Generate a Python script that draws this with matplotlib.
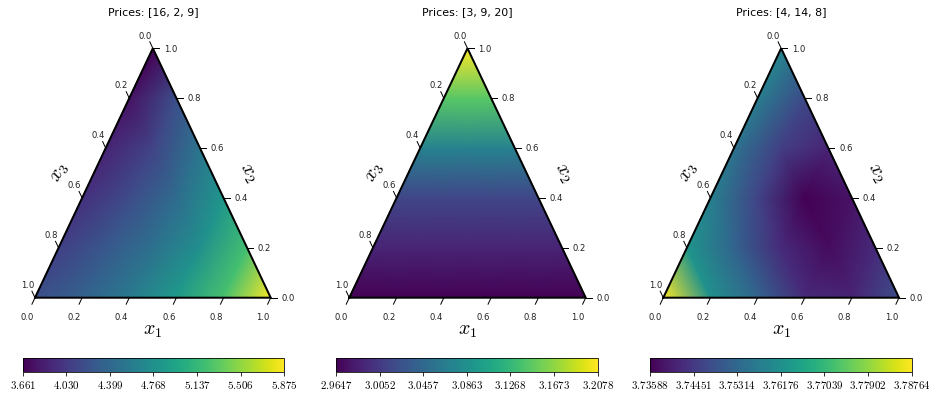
import matplotlib.pyplot as plt
import numpy as np

plt.rcParams['mathtext.fontset'] = 'cm'

titles = ["Prices: [16, 2, 9]", "Prices: [3, 9, 20]", "Prices: [4, 14, 8]"]

# cost on a 0.2 simplex grid: one row per x2 level (0 -> 1), x1 rising along each row
cost_a = [
    [4.192, 4.347, 4.569, 4.857, 5.233, 5.875],
    [4.082, 4.259, 4.480, 4.768, 5.211],
    [3.971, 4.170, 4.436, 4.834],
    [3.882, 4.104, 4.525],
    [3.772, 4.192],
    [3.661],
]
cost_b = [
    [2.9647, 2.9647, 2.9647, 2.9647, 2.9647, 2.9647],
    [2.9890, 2.9890, 2.9890, 2.9890, 2.9890],
    [3.0158, 3.0158, 3.0158, 3.0158],
    [3.0717, 3.0717, 3.0717],
    [3.1446, 3.1446],
    [3.2078],
]
cost_c = [
    [3.78764, 3.76176, 3.75244, 3.74209, 3.74106, 3.74830],
    [3.76280, 3.75244, 3.74209, 3.73743, 3.74209],
    [3.75814, 3.74623, 3.73588, 3.73847],
    [3.75555, 3.74520, 3.74106],
    [3.75762, 3.74727],
    [3.75969],
]
costs = [cost_a, cost_b, cost_c]

cbar_labels = [
    ["3.661", "4.030", "4.399", "4.768", "5.137", "5.506", "5.875"],
    ["2.9647", "3.0052", "3.0457", "3.0863", "3.1268", "3.1673", "3.2078"],
    ["3.73588", "3.74451", "3.75314", "3.76176", "3.77039", "3.77902", "3.78764"],
]
axis_ticks = ["0.0", "0.2", "0.4", "0.6", "0.8", "1.0"]

W, H = 930, 393
tri_left = [35, 349.3, 663.3]
tri_width = [235.7, 236.4, 235.7]
cb_left = [22.7, 336, 650]

s3 = np.sqrt(3) / 2
off = 0.026


def proj(a, b):
    return a + b / 2, b * s3


fig = plt.figure(figsize=(W / 72, H / 72), dpi=72)

for k in range(3):
    ax = fig.add_axes([tri_left[k] / W, (H - 297.7) / H, tri_width[k] / W, 249.4 / H])
    ax.set_xlim(0, 1)
    ax.set_ylim(0, s3)
    ax.axis('off')

    grid = costs[k]
    n = len(grid) - 1
    px, py, vals = [], [], []
    for j, row in enumerate(grid):
        for i, v in enumerate(row):
            x, y = proj(i / n, j / n)
            px.append(x)
            py.append(y)
            vals.append(v)
    lo = float(cbar_labels[k][0])
    hi = float(cbar_labels[k][-1])
    mesh = ax.tripcolor(px, py, vals, shading='gouraud', cmap='viridis',
                        vmin=lo, vmax=hi)

    # triangle outline
    ax.plot([0, 1, 0.5, 0], [0, 0, s3, 0], color='black', lw=2,
            clip_on=False, solid_joinstyle='miter')

    for idx, lab in enumerate(axis_ticks):
        t = float(lab)
        # bottom axis (x1)
        a, b = proj(t, 0), proj(t, -off)
        ax.plot([a[0], b[0]], [a[1], b[1]], color='black', lw=1, clip_on=False)
        tx, ty = proj(t + 0.5 * off, -3.5 * off)
        ax.text(tx, ty, lab, ha='center', fontsize=8.5, color='#222222', clip_on=False)
        # right axis (x2)
        a, b = proj(1 - t, t), proj(1 - t + off, t)
        ax.plot([a[0], b[0]], [a[1], b[1]], color='black', lw=1, clip_on=False)
        tx, ty = proj(1 - t + 3.1 * off, t - 0.5 * off)
        ax.text(tx, ty, lab, ha='center', fontsize=8.5, color='#222222', clip_on=False)
        # left axis (x3)
        a, b = proj(0, t), proj(-off, t + off)
        ax.plot([a[0], b[0]], [a[1], b[1]], color='black', lw=1, clip_on=False)
        tx, ty = proj(-2 * off, t + 1.5 * off)
        ax.text(tx, ty, axis_ticks[-(idx + 1)], ha='center', fontsize=8.5,
                color='#222222', clip_on=False)

    ax.text(0.5, -0.113, r'$x_1$', ha='center', va='center', fontsize=20)
    ax.text(0.904, 0.433, r'$x_2$', ha='center', va='center', fontsize=20, rotation=-60)
    ax.text(0.106, 0.433, r'$x_3$', ha='center', va='center', fontsize=20, rotation=60)

    fig.text((tri_left[k] + tri_width[k] / 2) / W, 1 - 12 / H, titles[k],
             ha='center', va='center', fontsize=11)

    cax = fig.add_axes([cb_left[k] / W, (H - 372.3) / H, 261.6 / W, 14 / H])
    cb = fig.colorbar(mesh, cax=cax, orientation='horizontal',
                      ticks=[float(t) for t in cbar_labels[k]])
    cb.ax.set_xticklabels(['$%s$' % t for t in cbar_labels[k]], fontsize=11)

fig.savefig('out.png', dpi=72)
